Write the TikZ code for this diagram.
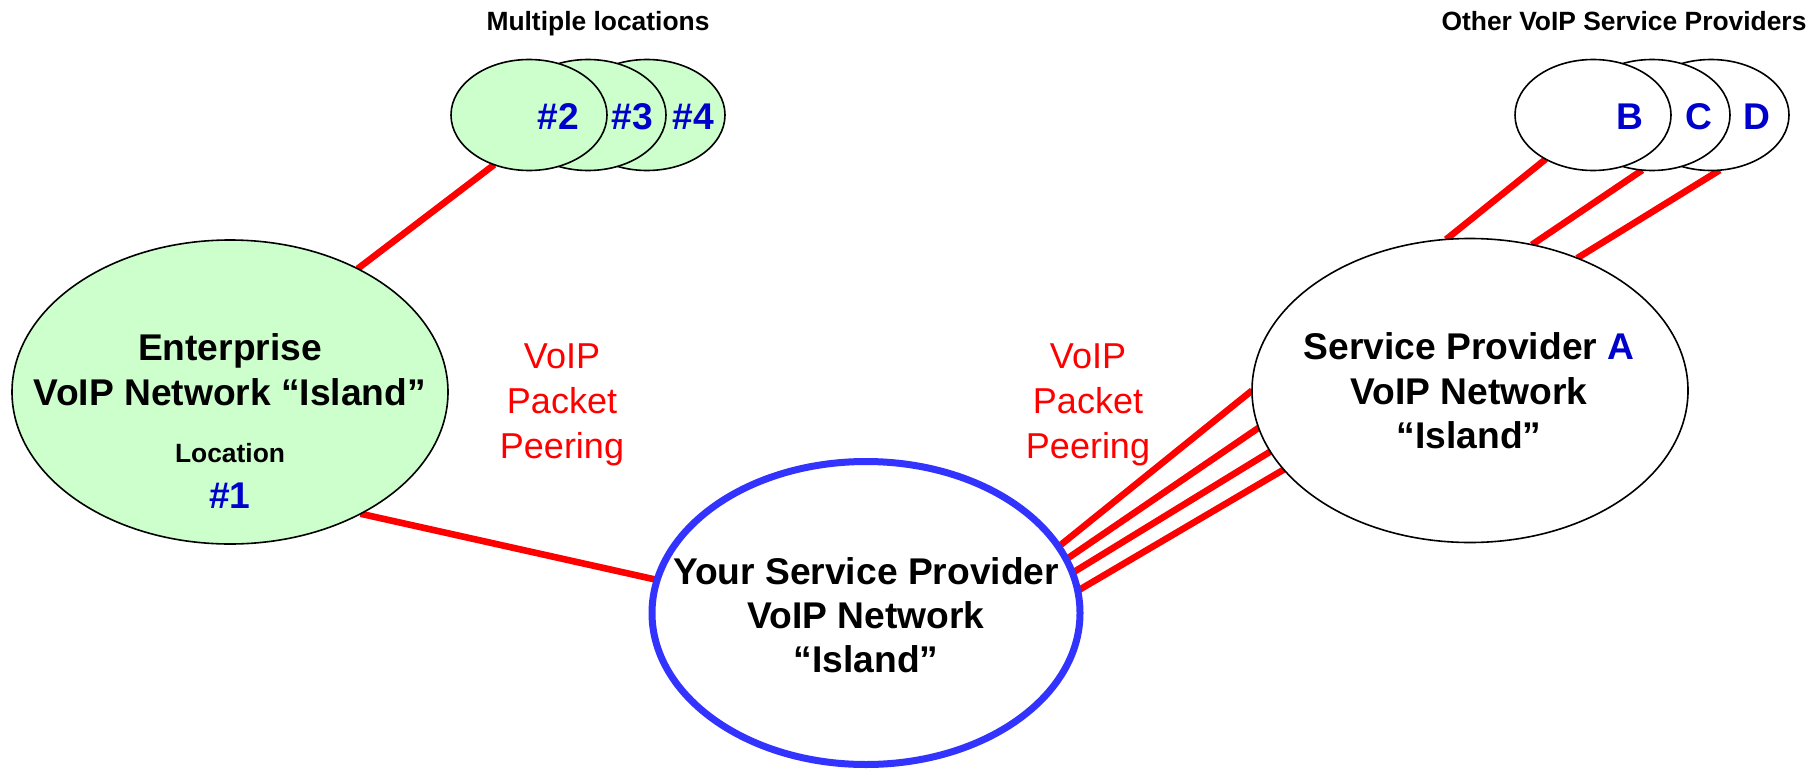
\documentclass[tikz,border=0pt]{standalone}
\usepackage{fontspec}
\setmainfont{Liberation Sans}
\usetikzlibrary{shapes.geometric}
\pgfdeclarelayer{links}
\pgfsetlayers{links,main}
\definecolor{islandgreen}{HTML}{CCFFCC}
\definecolor{labelblue}{HTML}{0000CC}
\definecolor{ringblue}{HTML}{3333FF}
\definecolor{peerred}{HTML}{FF0000}

\begin{document}
\begin{tikzpicture}[x=0.5pt,y=-0.5pt,
  island/.style={ellipse, draw=black, line width=0.8pt, minimum width=218pt,
    minimum height=152pt, inner sep=0pt, outer sep=0pt},
  site/.style={ellipse, draw=black, line width=0.8pt, minimum width=78pt,
    minimum height=55.5pt, inner sep=0pt, outer sep=0pt, fill=islandgreen},
  peer/.style={site, fill=white},
  big/.style={font=\bfseries\fontsize{18.6}{22}\selectfont, anchor=base, inner sep=0pt},
  small/.style={font=\bfseries\fontsize{13.2}{16}\selectfont, anchor=base, inner sep=0pt},
  tag/.style={big, text=labelblue},
  peering/.style={font=\fontsize{18}{22}\selectfont, text=peerred, anchor=base, inner sep=0pt},
  link/.style={draw=peerred, line width=3.3pt}
]
\useasboundingbox (0,0) rectangle (1814,771);

% the three network islands
\node[island, fill=islandgreen] (ent) at (230,392) {};
\node[island, fill=white, draw=ringblue, line width=3.5pt,
      minimum width=214pt, minimum height=151.5pt] (home) at (866,613) {};
\node[island, fill=white] (spa) at (1470,390.5) {};

% further enterprise locations, front one drawn last
\node[site] (s4) at (647,115) {};
\node[site] (s3) at (588,115) {};
\node[site] (s2) at (529,115) {};

% other providers, front one drawn last
\node[peer] (pd) at (1711,115) {};
\node[peer] (pc) at (1652,115) {};
\node[peer] (pb) at (1593,115) {};

% texts
\node[small] (tloc) at (598,31) {Multiple locations};
\node[small] (tother) at (1624,31) {Other VoIP Service Providers};

\node[tag] (t2) at (558,129) {\#2};
\node[tag] (t3) at (632,129) {\#3};
\node[tag] (t4) at (693,129) {\#4};
\node[tag] (tb) at (1630,129) {B};
\node[tag] (tc) at (1699,129) {C};
\node[tag] (td) at (1757,129) {D};

\node[big] (e1) at (230,360) {Enterprise};
\node[big] (e2) at (230,405) {VoIP Network “Island”};
\node[small] (e3) at (230,462) {Location};
\node[tag] (e4) at (230,508) {\#1};

\node[big] (h1) at (866,584) {Your Service Provider};
\node[big] (h2) at (866,628) {VoIP Network};
\node[big] (h3) at (866,672) {“Island”};

\node[big] (a1) at (1469,359) {Service Provider \textcolor{labelblue}{A}};
\node[big] (a2) at (1469,404) {VoIP Network};
\node[big] (a3) at (1469,448) {“Island”};

\node[peering] (l1) at (562,368) {VoIP};
\node[peering] (l2) at (562,413) {Packet};
\node[peering] (l3) at (562,458) {Peering};
\node[peering] (r1) at (1088,368) {VoIP};
\node[peering] (r2) at (1088,413) {Packet};
\node[peering] (r3) at (1088,458) {Peering};

% peering links, kept under the islands
\begin{pgfonlayer}{links}
  \draw[link] (ent.44.8) -- (s2.235.8);
  \draw[link] (ent.317.9) -- (home.171.3);
  \draw[link] (home.19.1) -- (spa.180.4);
  \draw[link] (home.15.2) -- (spa.190.5);
  \draw[link] (home.11.5) -- (spa.197.2);
  \draw[link] (home.6.0) -- (spa.203.8);
  \draw[link] (spa.99.9) -- (pb.223.7);
  \draw[link] (spa.67.5) -- (pc.260.3);
  \draw[link] (spa.51.2) -- (pd.279.6);
\end{pgfonlayer}
\end{tikzpicture}
\end{document}
